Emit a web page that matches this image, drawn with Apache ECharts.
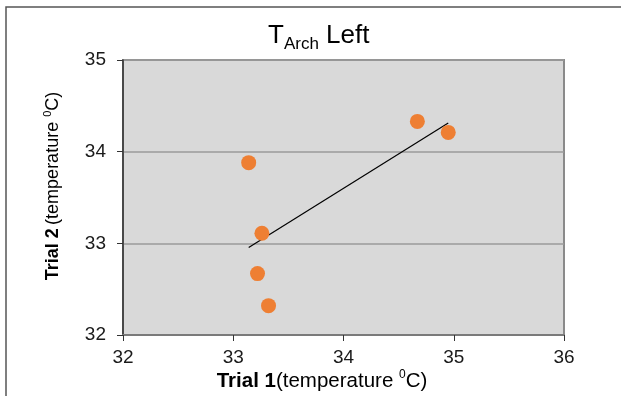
<!DOCTYPE html>
<html>
<head>
<meta charset="utf-8">
<script src="https://cdn.jsdelivr.net/npm/echarts@6/dist/echarts.min.js"></script>
<style>html,body{margin:0;padding:0;background:#fff;}#c{width:621px;height:396px;}</style>
</head>
<body>
<div id="c"></div>
<script>
var trial1 = [34.67, 34.95, 33.14, 33.26, 33.22, 33.32];
var trial2 = [34.33, 34.21, 33.88, 33.11, 32.67, 32.32];
var xTicks = [32, 33, 34, 35, 36];
var yTicks = [32, 33, 34, 35];

var FF = 'Liberation Sans, Arial, sans-serif';
var points = trial1.map(function (x, i) { return [x, trial2[i]]; });

// least-squares trendline through data
var n = trial1.length, mx = 0, my = 0;
for (var i = 0; i < n; i++) { mx += trial1[i]; my += trial2[i]; }
mx /= n; my /= n;
var sxy = 0, sxx = 0;
for (var i = 0; i < n; i++) { sxy += (trial1[i]-mx)*(trial2[i]-my); sxx += (trial1[i]-mx)*(trial1[i]-mx); }
var slope = sxy / sxx, icpt = my - slope * mx;
var xmin = Math.min.apply(null, trial1), xmax = Math.max.apply(null, trial1);
var trend = [[xmin, icpt + slope * xmin], [xmax, icpt + slope * xmax]];

var chart = echarts.init(document.getElementById('c'), null, {renderer: 'canvas'});
chart.setOption({
  animation: false,
  backgroundColor: '#fff',
  grid: {left: 123, right: 57, top: 60, bottom: 61, show: true, backgroundColor: '#D9D9D9', borderColor: '#8a8a8a', borderWidth: 2},
  xAxis: {
    type: 'value', min: xTicks[0], max: xTicks[xTicks.length-1], interval: 1,
    axisLine: {show: true, onZero: false, lineStyle: {color: '#7a7a7a', width: 2}},
    axisTick: {show: true, inside: false, length: 6, lineStyle: {color: '#333', width: 1}},
    axisLabel: {margin: 13, color: '#1a1a1a', fontSize: 19, fontFamily: FF},
    splitLine: {show: false}
  },
  yAxis: {
    type: 'value', min: yTicks[0], max: yTicks[yTicks.length-1], interval: 1,
    axisLine: {show: true, onZero: false, lineStyle: {color: '#333', width: 1.5}},
    axisTick: {show: true, inside: false, length: 6, lineStyle: {color: '#333', width: 1}},
    axisLabel: {margin: 17, color: '#1a1a1a', fontSize: 19, fontFamily: FF},
    splitLine: {show: true, lineStyle: {color: '#9a9a9a', width: 1.5}}
  },
  series: [
    {type: 'line', data: trend, symbol: 'none', lineStyle: {color: '#000', width: 1.2}, z: 3},
    {type: 'scatter', data: points, symbol: 'circle', symbolSize: 15, itemStyle: {color: '#EE7F33', opacity: 1}, z: 4}
  ],
  graphic: [
    {type: 'rect', shape: {x: 6, y: 7, width: 800, height: 600}, style: {fill: 'none', stroke: '#555', lineWidth: 1.5}, silent: true, z: 0},
    {type: 'text', left: 268, top: 23, style: {
      text: '{t|T}{s|Arch}{t| Left}', fontFamily: FF,
      rich: {t: {fontSize: 26, lineHeight: 33, fontFamily: FF, fill: '#000'}, s: {fontSize: 17, lineHeight: 17, verticalAlign: 'bottom', fontFamily: FF, fill: '#000'}}
    }},
    {type: 'text', x: 322, y: 381, style: {
      text: '{b|Trial 1}{r|(temperature }{p|0}{r|C)}', align: 'center', verticalAlign: 'middle', fontFamily: FF,
      rich: {b: {fontSize: 20.5, fontWeight: 'bold', lineHeight: 24, fontFamily: FF, fill: '#000'}, r: {fontSize: 20.5, lineHeight: 24, fontFamily: FF, fill: '#000'}, p: {fontSize: 12, lineHeight: 12, verticalAlign: 'top', fontFamily: FF, fill: '#000'}}
    }},
    {type: 'text', x: 53, y: 186, rotation: Math.PI / 2, style: {
      text: '{b|Trial 2} {r|(temperature }{p|0}{r|C)}', align: 'center', verticalAlign: 'middle', fontFamily: FF,
      rich: {b: {fontSize: 18, fontWeight: 'bold', lineHeight: 22, fontFamily: FF, fill: '#000'}, r: {fontSize: 18, lineHeight: 22, fontFamily: FF, fill: '#000'}, p: {fontSize: 11, lineHeight: 11, verticalAlign: 'top', fontFamily: FF, fill: '#000'}}
    }}
  ]
});
</script>
</body>
</html>
